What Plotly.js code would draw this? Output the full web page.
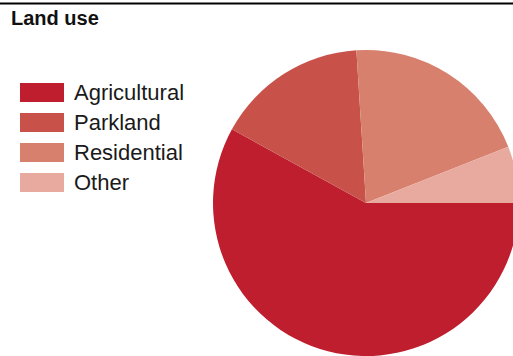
<!DOCTYPE html>
<html><head><meta charset="utf-8">
<script src="https://cdn.plot.ly/plotly-3.0.1.min.js"></script>
<style>html,body{margin:0;padding:0;overflow:hidden;background:#fff;width:513px;height:356px}#c{width:540px;height:380px}</style>
</head><body><div id="c"></div>
<script>
const categories = ["Agricultural", "Parkland", "Residential", "Other"];
const shares = [58, 16, 20, 6];
const colors = ["#bf1e2e", "#c8524a", "#d8806e", "#e8aa9e"];
const chartTitle = "Land use";

const W = 540, H = 380;
const px = x => x / W;
const py = y => 1 - y / H;

const shapes = [{type:"line", xref:"paper", yref:"paper", x0:0, x1:1, y0:py(3.5), y1:py(3.5), line:{color:"#000", width:2}}];
const annotations = [];
categories.forEach((c, i) => {
  const top = 83 + i * 30;
  shapes.push({type:"rect", xref:"paper", yref:"paper", x0:px(20), x1:px(64), y0:py(top), y1:py(top+19), fillcolor:colors[i], line:{width:0}});
  annotations.push({xref:"paper", yref:"paper", x:px(72), y:py(top+9.5), xanchor:"left", yanchor:"middle", text:c, showarrow:false, font:{family:"Liberation Sans, Arial, sans-serif", size:22, color:"#1a1a1a"}});
});

const data = [{
  type:"pie", labels:categories, values:shares, sort:false, direction:"clockwise", rotation:90,
  marker:{colors:colors, line:{width:0}}, textinfo:"none", hoverinfo:"label+percent",
  domain:{x:[px(213), px(519)], y:[py(356), py(50)]}
}];
const layout = {
  width:W, height:H, margin:{l:0,r:0,t:0,b:0}, showlegend:false,
  paper_bgcolor:"#fff",
  title:{text:"<b>"+chartTitle+"</b>", x:px(11), xanchor:"left", xref:"paper", y:py(18), yanchor:"middle", yref:"paper",
    font:{family:"Liberation Sans, Arial, sans-serif", size:20, color:"#111"}},
  shapes:shapes, annotations:annotations
};
Plotly.newPlot("c", data, layout, {displayModeBar:false, staticPlot:true});
</script></body></html>
